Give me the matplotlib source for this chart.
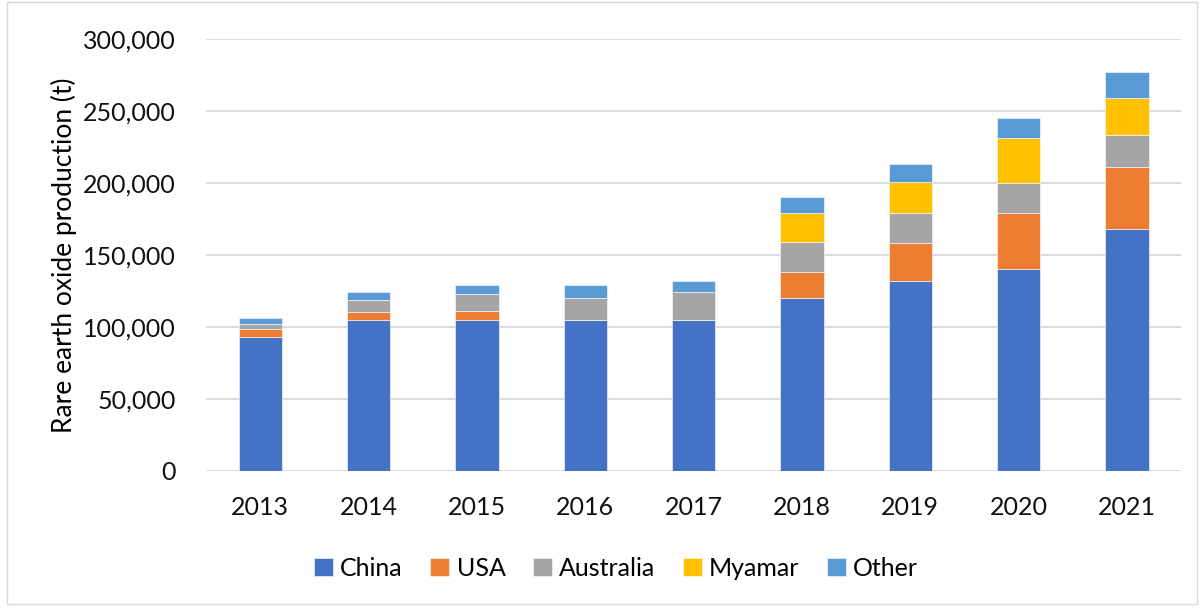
import matplotlib
matplotlib.use('Agg')
import matplotlib.pyplot as plt
import numpy as np
from matplotlib.patches import Rectangle
from matplotlib.ticker import FuncFormatter

plt.rcParams['font.family'] = ['Lato', 'DejaVu Sans']

years = ['2013', '2014', '2015', '2016', '2017', '2018', '2019', '2020', '2021']
china = [93000, 105000, 105000, 105000, 105000, 120000, 132000, 140000, 168000]
usa = [5500, 5500, 6000, 0, 0, 18000, 26000, 39000, 43000]
australia = [3500, 8000, 12000, 15000, 19000, 21000, 21000, 21000, 22000]
myamar = [0, 0, 0, 0, 0, 20000, 22000, 31000, 26000]
other = [4000, 6000, 6500, 9500, 8000, 11000, 12000, 14000, 18000]

series = [('China', china, '#4472C4'),
          ('USA', usa, '#ED7D31'),
          ('Australia', australia, '#A5A5A5'),
          ('Myamar', myamar, '#FFC000'),
          ('Other', other, '#5B9BD5')]

fig = plt.figure(figsize=(12.01, 6.08), dpi=100)
ax = fig.add_axes([206 / 1201, 137 / 608, 975 / 1201, 432 / 608])

x = np.arange(len(years))
bottom = np.zeros(len(years))
for name, vals, col in series:
    vals = np.array(vals, dtype=float)
    ax.bar(x, vals, 0.4, bottom=bottom, color=col, label=name,
           edgecolor='white', linewidth=0.4, zorder=3)
    bottom += vals

ax.set_xlim(-0.5, len(years) - 0.5)
ax.set_ylim(0, 300000)
ax.set_yticks(np.arange(0, 300001, 50000))
ax.yaxis.set_major_formatter(FuncFormatter(lambda v, p: f'{int(v):,}'))
ax.set_xticks(x)
ax.set_xticklabels(years)
ax.grid(axis='y', color='#d9d9d9', linewidth=1.3, zorder=0)
for s in ax.spines.values():
    s.set_visible(False)
ax.tick_params(axis='both', length=0, labelsize=18, colors='#111111')
ax.tick_params(axis='y', pad=22)
ax.tick_params(axis='x', pad=18)
ax.set_ylabel('Rare earth oxide production (t)', fontsize=19, labelpad=4)

fig.legend(loc='center', bbox_to_anchor=(0.513, 40 / 608), ncol=5, frameon=False,
           fontsize=18, handlelength=0.75, handleheight=0.75, handletextpad=0.3,
           columnspacing=1.1)

fig.patches.append(Rectangle((7 / 1201, 4 / 608), 1190 / 1201, 602 / 608,
                             transform=fig.transFigure, fill=False,
                             edgecolor='#d9d9d9', linewidth=1))

fig.savefig('out.png', dpi=100)
